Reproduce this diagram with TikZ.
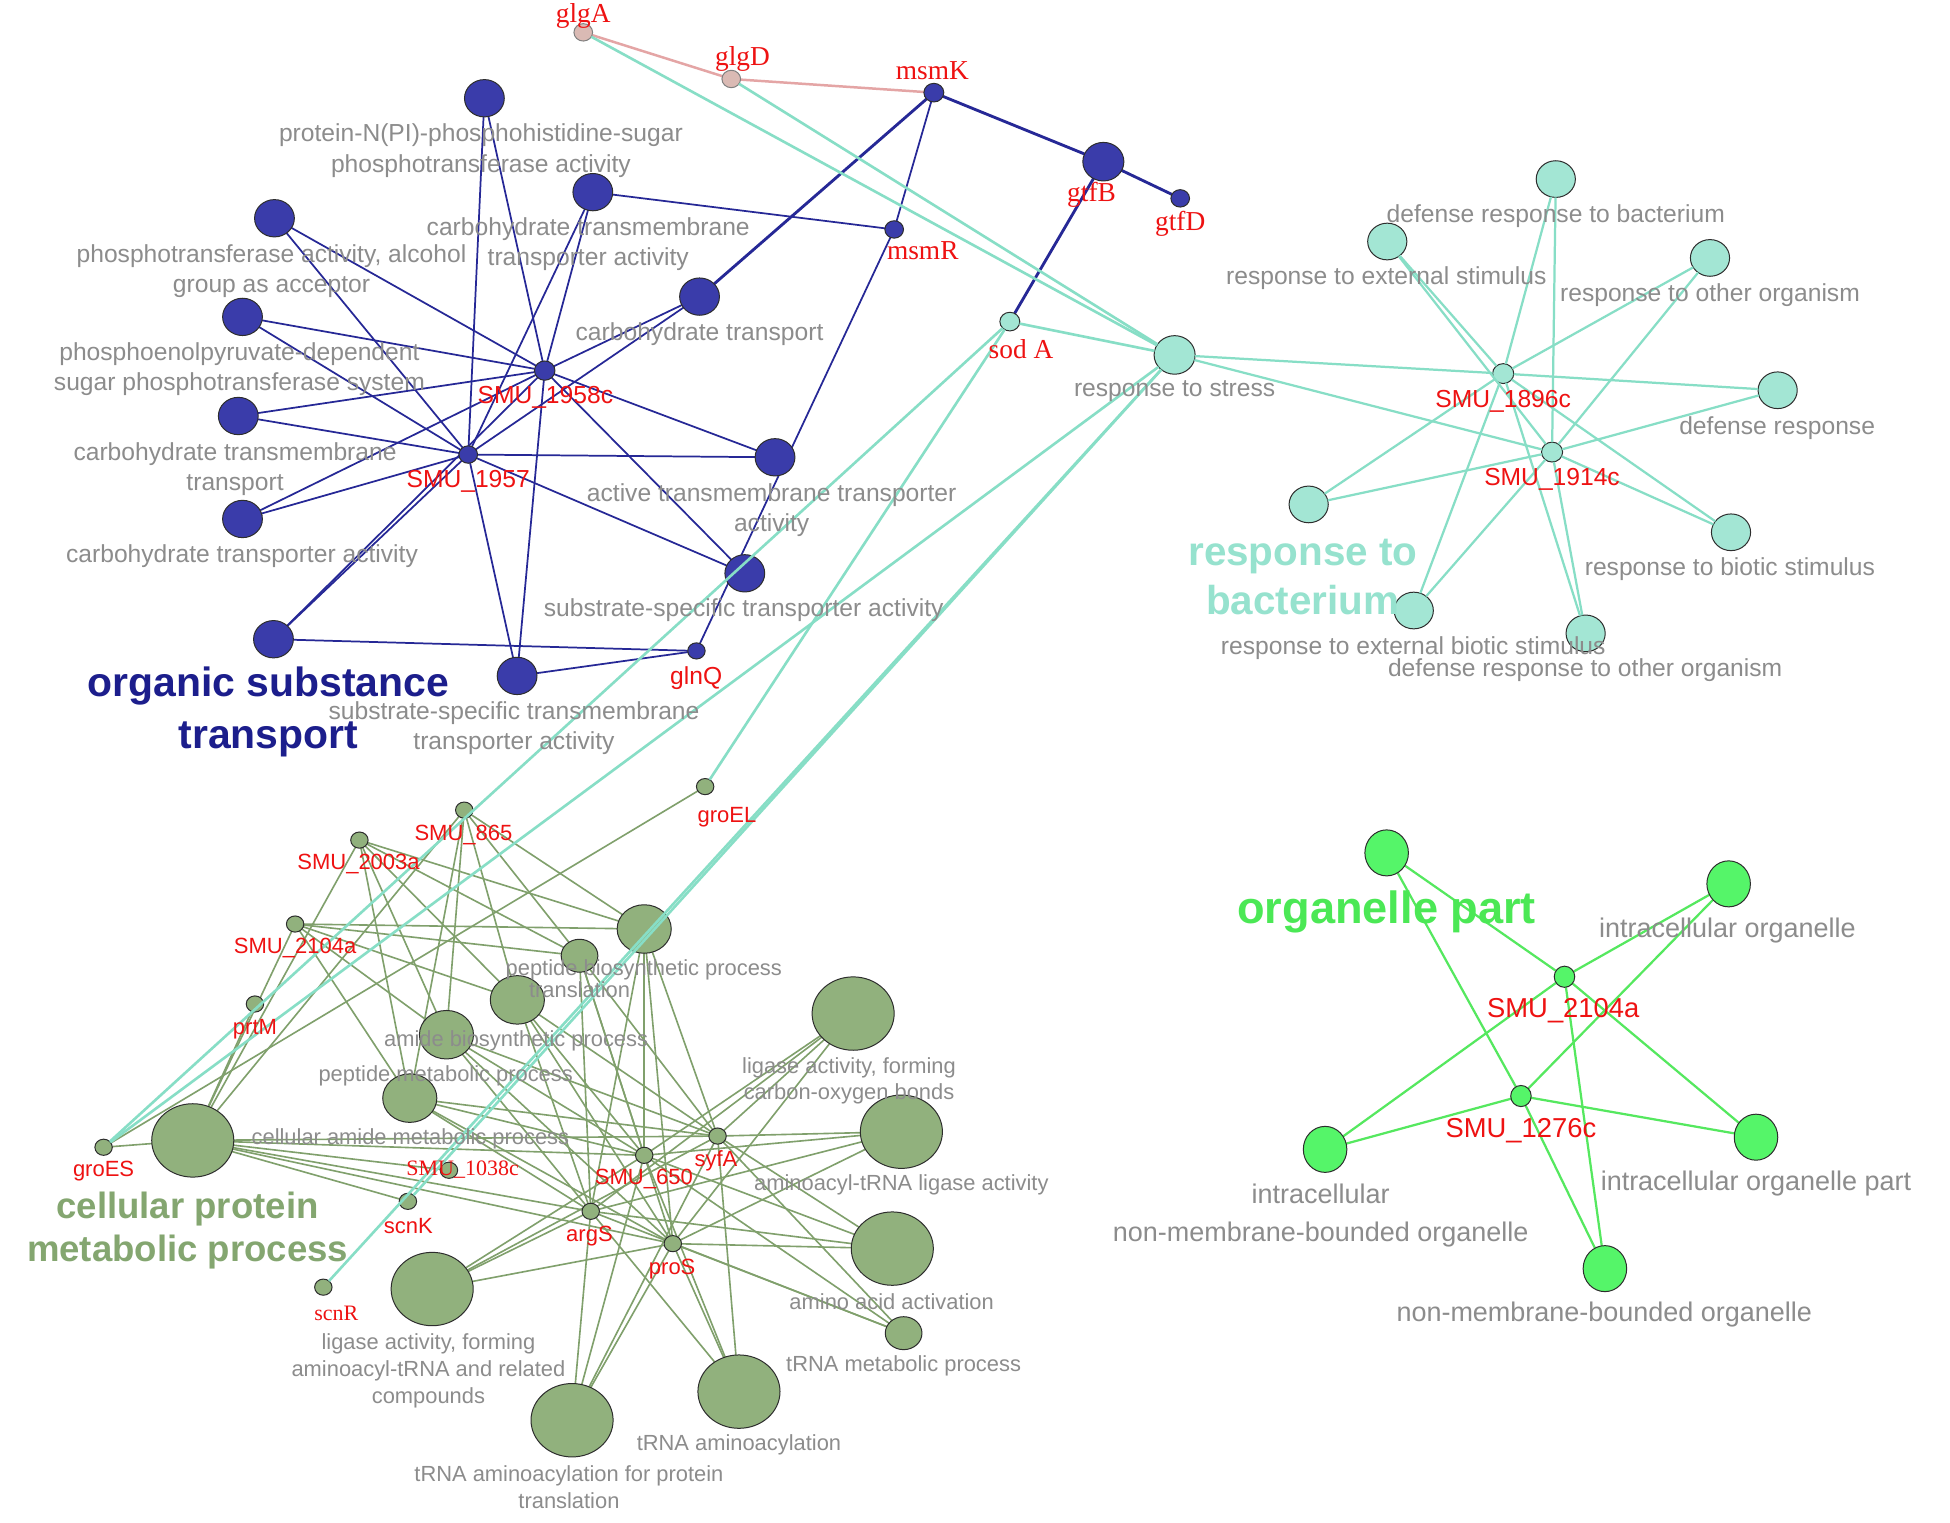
\documentclass[tikz,border=0pt]{standalone}
\usepackage{fontspec}
\setmainfont{Liberation Sans}
\newfontfamily\serifred{Liberation Serif}
\usetikzlibrary{shapes.geometric}
\pgfdeclarelayer{bg}
\pgfsetlayers{bg,main}
\definecolor{cBfill}{RGB}{58,60,170}
\definecolor{cBedge}{RGB}{38,40,150}
\definecolor{cBlueLab}{RGB}{28,30,140}
\definecolor{cTfill}{RGB}{163,230,212}
\definecolor{cTedge}{RGB}{135,222,198}
\definecolor{cTlab}{RGB}{150,226,206}
\definecolor{cGfill}{RGB}{145,177,125}
\definecolor{cGedge}{RGB}{128,160,108}
\definecolor{cGlab}{RGB}{132,166,112}
\definecolor{cOfill}{RGB}{85,245,105}
\definecolor{cOedge}{RGB}{85,232,95}
\definecolor{cOlab}{RGB}{75,232,85}
\definecolor{cPink}{RGB}{228,165,165}
\definecolor{cPfill}{RGB}{218,186,180}
\definecolor{cGray}{RGB}{140,140,140}
\definecolor{cRed}{RGB}{238,18,18}
\definecolor{cBorder}{RGB}{45,45,45}
\begin{document}
\begin{tikzpicture}[x=1pt,y=-1pt,
  nd/.style={ellipse, draw=cBorder, line width=0.8pt, inner sep=0pt, outer sep=0pt},
  bT/.style={nd, fill=cBfill, minimum width=32pt, minimum height=30pt},
  bG/.style={nd, fill=cBfill, minimum width=15pt, minimum height=14pt},
  tT/.style={nd, fill=cTfill, minimum width=31.5pt, minimum height=29.5pt},
  tG/.style={nd, fill=cTfill, minimum width=16pt, minimum height=15pt},
  pG/.style={nd, fill=cPfill, draw=gray, minimum width=15pt, minimum height=14pt},
  gL/.style={nd, fill=cGfill, minimum width=66pt, minimum height=59pt},
  gM/.style={nd, fill=cGfill, minimum width=43.5pt, minimum height=39pt},
  gS/.style={nd, fill=cGfill, minimum width=29.5pt, minimum height=26.5pt},
  gG/.style={nd, fill=cGfill, minimum width=14pt, minimum height=13pt},
  oT/.style={nd, fill=cOfill, minimum width=35pt, minimum height=37pt},
  oG/.style={nd, fill=cOfill, minimum width=16.5pt, minimum height=17pt},
  lab/.style={inner sep=0pt, outer sep=0pt, align=center, yshift=-2pt},
  gl/.style={lab, text=cGray, font=\fontsize{19.8}{24.5}\selectfont},
  glS/.style={lab, text=cGray, font=\fontsize{17.6}{21.5}\selectfont},
  glO/.style={lab, text=cGray, font=\fontsize{21.7}{30.5}\selectfont},
  rl/.style={lab, text=cRed, font=\fontsize{19.8}{24}\selectfont},
  rlS/.style={lab, text=cRed, font=\fontsize{17.7}{21}\selectfont},
  rlO/.style={lab, text=cRed, font=\fontsize{22}{26}\selectfont},
  rs/.style={lab, text=cRed, font=\serifred\fontsize{22}{26}\selectfont},
  rsS/.style={lab, text=cRed, font=\serifred\fontsize{17.7}{21}\selectfont},
  eB/.style={draw=cBedge, line width=1.4pt},
  eBt/.style={draw=cBedge, line width=2.3pt},
  eT/.style={draw=cTedge, line width=1.8pt},
  eTt/.style={draw=cTedge, line width=2.1pt},
  eG/.style={draw=cGedge, line width=1.3pt},
  eO/.style={draw=cOedge, line width=1.8pt},
  eP/.style={draw=cPink, line width=2pt}]
\useasboundingbox (0,0) rectangle (1568,1224);
\begin{pgfonlayer}{bg}
\fill[white] (0,0) rectangle (1568,1224);
\end{pgfonlayer}

% ---------- blue cluster nodes ----------
\node[bT] (b1) at (389.5,79) {};
\node[bT] (b2) at (476.7,154.5) {};
\node[bT] (b3) at (220.7,175.5) {};
\node[bT] (b4) at (195,254.8) {};
\node[bT] (b5) at (191.6,334.5) {};
\node[bT] (b6) at (195,417.3) {};
\node[bT] (b7) at (562.5,238.5) {};
\node[bT] (b8) at (623.2,367.7) {};
\node[bT] (b9) at (598.9,461) {};
\node[bT] (b10) at (219.9,514) {};
\node[bT] (b11) at (415.8,543.5) {};
\node[bG, minimum width=16.5pt, minimum height=15.5pt] (g1958) at (438,298) {};
\node[bG] (g1957) at (376.5,365.5) {};
\node[bG, minimum width=16pt, minimum height=15pt] (msmK) at (750.9,74.5) {};
\node[bG] (msmR) at (719,184.5) {};
\node[bT, minimum width=33pt, minimum height=31pt] (gtfB) at (887.2,130) {};
\node[bG] (gtfD) at (949,159.5) {};
\node[bG, minimum width=14pt, minimum height=13pt] (glnQ) at (560,523.4) {};
\node[pG] (glgA) at (469,26) {};
\node[pG] (glgD) at (588,63.5) {};

% ---------- teal cluster nodes ----------
\node[tT, minimum width=33pt, minimum height=31pt] (stress) at (944.5,285.4) {};
\node[tG] (sodA) at (812,258.6) {};
\node[tT] (tdb) at (1251,144) {};
\node[tT] (tes) at (1115.5,194.2) {};
\node[tT] (too) at (1375,207.4) {};
\node[tT] (tdr) at (1429.4,313.8) {};
\node[tT] (tbac) at (1052.3,405.6) {};
\node[tT] (tbs) at (1391.9,428) {};
\node[tT] (tebs) at (1136.8,490.9) {};
\node[tT] (tdo) at (1275,509.3) {};
\node[tG, minimum width=17pt, minimum height=16pt] (g1896) at (1208.7,300.4) {};
\node[tG, minimum width=17pt, minimum height=16pt] (g1914) at (1248,363.5) {};

% ---------- green cluster nodes ----------
\node[gM] (t1) at (518,747) {};
\node[gS] (t2) at (466,768.5) {};
\node[gM] (t3) at (416,804) {};
\node[gM] (t4) at (359,832) {};
\node[gM] (t5) at (329.5,883) {};
\node[gL] (t6) at (155,917) {};
\node[gL] (t7) at (686,815) {};
\node[gL] (t8) at (724.8,910) {};
\node[gL] (t9) at (717.5,1004) {};
\node[gS] (t10) at (726.6,1072) {};
\node[gL] (t11) at (594.2,1119) {};
\node[gL] (t12) at (460,1142) {};
\node[gL] (t13) at (347.5,1036.5) {};
\node[gG] (g865) at (373.3,651.4) {};
\node[gG] (g2003) at (289,675.5) {};
\node[gG] (g2104) at (237.3,743) {};
\node[gG] (prtM) at (205,807.3) {};
\node[gG] (groEL) at (567,632.5) {};
\node[gG] (groES) at (83.3,922.5) {};
\node[gG] (g1038) at (361,941) {};
\node[gG] (scnK) at (328,966) {};
\node[gG] (scnR) at (260,1035) {};
\node[gG] (g650) at (518,929) {};
\node[gG] (syfA) at (577,913.5) {};
\node[gG] (argS) at (475,974) {};
\node[gG] (proS) at (541,1000) {};

% ---------- organelle cluster nodes ----------
\node[oT] (oPart) at (1115,685.8) {};
\node[oT] (oIO) at (1390,710.7) {};
\node[oT] (oINM) at (1065.5,924.2) {};
\node[oT] (oIOP) at (1412,914.4) {};
\node[oT] (oNM) at (1290.5,1020.1) {};
\node[oG] (o2104) at (1258,785.4) {};
\node[oG] (o1276) at (1223,881.3) {};

% ---------- edges under nodes ----------
\begin{pgfonlayer}{bg}
\foreach \t in {b1,b2,b3,b4,b5,b6,b7,b8,b9,b10,b11} {
  \draw[eB] (g1958) -- (\t);
  \draw[eB] (g1957) -- (\t);
}
\draw[eB] (b2) -- (msmR);
\draw[eBt] (b7) -- (msmK);
\draw[eB] (msmK) -- (msmR);
\draw[eB] (msmR) -- (glnQ);
\draw[eBt] (msmK) -- (gtfB);
\draw[eBt] (gtfB) -- (gtfD);
\draw[eBt] (gtfB) -- (sodA);
\draw[eB] (b10) -- (glnQ);
\draw[eB] (b11) -- (glnQ);
\draw[eP] (glgA) -- (glgD);
\draw[eP] (glgD) -- (msmK);
\foreach \g in {g865,g2003,g2104} {
  \foreach \n in {1,...,6} { \draw[eG] (\g) -- (t\n); }
}
\foreach \g in {g650,syfA,argS,proS} {
  \foreach \n in {1,...,13} { \draw[eG] (\g) -- (t\n); }
}
\foreach \g in {prtM,groES,scnK,g1038} { \draw[eG] (\g) -- (t6); }
\draw[eG] (groEL) -- (groES);
\foreach \t in {oPart,oIO,oINM,oIOP,oNM} {
  \draw[eO] (\t) -- (o2104);
  \draw[eO] (\t) -- (o1276);
}
\end{pgfonlayer}

% ---------- teal edges (over other clusters) ----------
\foreach \t in {tdb,tes,too,tdr,tbac,tbs,tebs,tdo,stress} {
  \draw[eT] (\t) -- (g1896);
  \draw[eT] (\t) -- (g1914);
}
\foreach \g in {glgA,glgD,sodA,groES,scnK,scnR} { \draw[eTt] (stress) -- (\g); }
\draw[eTt] (sodA) -- (groES);
\draw[eTt] (sodA) -- (groEL);

% ---------- labels: blue cluster ----------
\node[gl] (lb1) at (386.7,119.2) {protein-N(PI)-phosphohistidine-sugar\\phosphotransferase activity};
\node[gl] (lb2) at (473,194.2) {carbohydrate transmembrane\\transporter activity};
\node[gl] (lb3) at (218.3,216.2) {phosphotransferase activity, alcohol\\group as acceptor};
\node[gl] (lb4) at (192.5,295) {phosphoenolpyruvate-dependent\\sugar phosphotransferase system};
\node[gl] (lb5) at (189,375.2) {carbohydrate transmembrane\\transport};
\node[gl] (lb6) at (194.6,445.4) {carbohydrate transporter activity};
\node[gl] (lb7) at (562.5,266.5) {carbohydrate transport};
\node[gl] (lb8) at (620.5,408.3) {active transmembrane transporter\\activity};
\node[gl] (lb9) at (598,488.8) {substrate-specific transporter activity};
\node[gl] (lb11) at (413.3,583.4) {substrate-specific transmembrane\\transporter activity};
\node[lab, text=cBlueLab, font=\bfseries\fontsize{32.9}{41.6}\selectfont] (lb10) at (215.9,570.2) {organic substance\\transport};
\node[rl] (l1958) at (438.5,317.5) {SMU\_1958c};
\node[rl] (l1957) at (376.5,384.8) {SMU\_1957};
\node[rl] (lglnQ) at (559.8,543.5) {glnQ};
\node[rs] (lglgA) at (469,10.7) {glgA};
\node[rs] (lglgD) at (597,45.6) {glgD};
\node[rs] (lmsmK) at (749.7,55) {msmK};
\node[rs] (lmsmR) at (742,199.7) {msmR};
\node[rs] (lgtfB) at (877.7,155) {gtfB};
\node[rs] (lgtfD) at (949,178.2) {gtfD};
\node[rs] (lsodA) at (821,278.7) {sod A};

% ---------- labels: teal cluster ----------
\node[gl] (lstress) at (944.5,312.5) {response to stress};
\node[gl] (ltdb) at (1251,171.7) {defense response to bacterium};
\node[gl] (ltes) at (1114.7,221.4) {response to external stimulus};
\node[gl] (ltoo) at (1375,235.5) {response to other organism};
\node[gl] (ltdr) at (1429,341.9) {defense response};
\node[gl] (ltbs) at (1391,455.3) {response to biotic stimulus};
\node[gl] (ltebs) at (1136.4,519) {response to external biotic stimulus};
\node[gl] (ltdo) at (1274.6,536.5) {defense response to other organism};
\node[lab, text=cTlab, font=\bfseries\fontsize{32.5}{40}\selectfont] (ltbac) at (1047.6,462) {response to\\bacterium};
\node[rl] (l1896) at (1208.7,320.8) {SMU\_1896c};
\node[rl] (l1914) at (1248,383.6) {SMU\_1914c};

% ---------- labels: green cluster ----------
\node[glS] (lt1) at (517.7,777.9) {peptide biosynthetic process};
\node[glS] (lt2) at (466,793.4) {translation};
\node[glS] (lt3) at (415,835) {amide biosynthetic process};
\node[glS] (lt4) at (358.4,863) {peptide metabolic process};
\node[glS] (lt5) at (330,913.5) {cellular amide metabolic process};
\node[glS] (lt7) at (682.7,867.1) {ligase activity, forming\\carbon-oxygen bonds};
\node[glS] (lt8) at (724.8,950.7) {aminoacyl-tRNA ligase activity};
\node[glS] (lt9) at (717,1045) {amino acid activation};
\node[glS] (lt10) at (726.6,1096) {tRNA metabolic process};
\node[glS] (lt11) at (594.2,1159.8) {tRNA aminoacylation};
\node[glS] (lt12) at (457.5,1194) {tRNA aminoacylation for protein\\translation};
\node[glS] (lt13) at (344.5,1100.3) {ligase activity, forming\\aminoacyl-tRNA and related\\compounds};
\node[lab, text=cGlab, font=\bfseries\fontsize{29.4}{35}\selectfont] (lt6) at (150.8,987.6) {cellular protein\\metabolic process};
\node[rlS] (l865) at (372.7,669.3) {SMU\_865};
\node[rlS] (l2003) at (288.3,692.9) {SMU\_2003a};
\node[rlS] (l2104) at (237.3,759.9) {SMU\_2104a};
\node[rlS] (lprtM) at (205,825.6) {prtM};
\node[rlS] (lgroEL) at (584.5,655) {groEL};
\node[rlS] (lgroES) at (83.3,939.4) {groES};
\node[rsS] (l1038) at (372,938.6) {SMU\_1038c};
\node[rlS] (lscnK) at (328.3,983.7) {scnK};
\node[rsS] (lscnR) at (270.4,1054) {scnR};
\node[rlS] (l650) at (517.7,946.2) {SMU\_650};
\node[rlS] (lsyfA) at (575.7,931.4) {syfA};
\node[rlS] (largS) at (474,991.7) {argS};
\node[rlS] (lproS) at (540.5,1018.3) {proS};

% ---------- labels: organelle cluster ----------
\node[lab, text=cOlab, font=\bfseries\fontsize{36.3}{44}\selectfont] (loPart) at (1115,731) {organelle part};
\node[glO] (loIO) at (1389,746) {intracellular organelle};
\node[glO] (loINM) at (1062,975.2) {intracellular\\non-membrane-bounded organelle};
\node[glO] (loIOP) at (1412,950) {intracellular organelle part};
\node[glO] (loNM) at (1290,1055) {non-membrane-bounded organelle};
\node[rlO] (lo2104) at (1257,811) {SMU\_2104a};
\node[rlO] (lo1276) at (1223,907) {SMU\_1276c};
\end{tikzpicture}
\end{document}
